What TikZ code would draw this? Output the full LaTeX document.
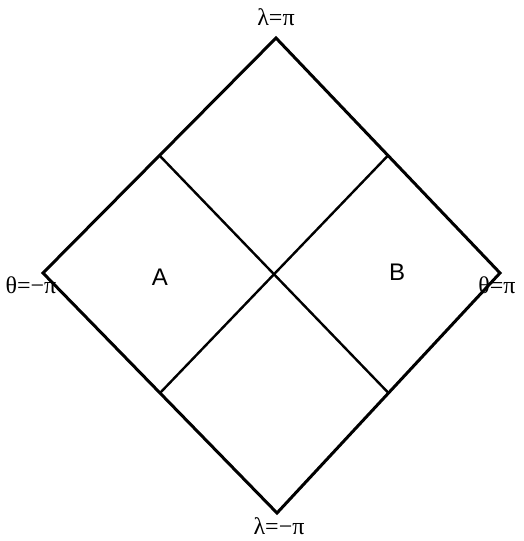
\documentclass[tikz,border=0pt]{standalone}
\usepackage{fontspec}
\setmainfont{Liberation Serif}
\newfontfamily\regionfont{Liberation Sans}
\begin{document}
\begin{tikzpicture}[
        x=1pt, y=-1pt,
        edge/.style={line width=3pt, line join=miter},
        cross/.style={line width=2.4pt},
        every node/.style={
            inner sep=0pt,
            font=\fontsize{24}{28}\selectfont}]
        \useasboundingbox (0,0) rectangle (524,541);

        \coordinate (T) at (276,38);
        \coordinate (R) at (500,273);
        \coordinate (Bt) at (277,513);
        \coordinate (L) at (43,273);

        \coordinate (TL) at (159.5,155.5);
        \coordinate (TR) at (388,155.5);
        \coordinate (BL) at (160,393);
        \coordinate (BR) at (388.5,393);

        \draw[edge] (T) -- (R) -- (Bt) -- (L) -- cycle;
        \draw[cross] (TL) -- (BR);
        \draw[cross] (TR) -- (BL);

        \node (lamtop) at (276,17) {λ=π};
        \node (lambot) at (279,526) {λ=−π};
        \node (thleft) at (31,285) {θ=−π};
        \node (thright) at (497,285) {θ=π};

        \node[font=\regionfont\fontsize{24}{28}\selectfont] (A) at (160,277) {A};
        \node[font=\regionfont\fontsize{24}{28}\selectfont] (B) at (397,272) {B};
    \end{tikzpicture}
\end{document}
